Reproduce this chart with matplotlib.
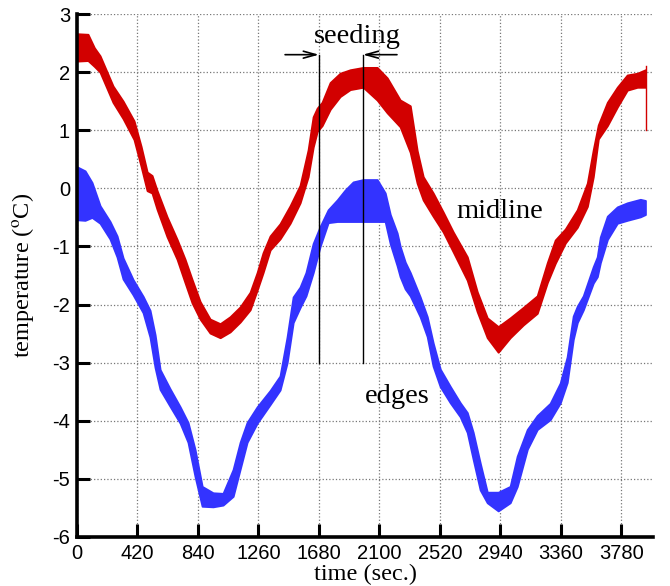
import matplotlib
matplotlib.use("Agg")
import matplotlib.pyplot as plt

# midline (red) band: time, upper and lower edge
mid_t = [0, 76, 120, 160, 250, 320, 396, 445, 487, 521, 556, 625, 695, 750, 799,
         855, 924, 994, 1063, 1133, 1202, 1251, 1292, 1341, 1410, 1480, 1549, 1605,
         1640, 1668, 1702, 1758, 1827, 1897, 1987, 2084, 2154, 2244, 2314, 2362,
         2404, 2473, 2543, 2612, 2710, 2779, 2849, 2925, 3008, 3099, 3196, 3266,
         3321, 3391, 3474, 3544, 3585, 3620, 3683, 3752, 3821, 3891, 3947]
mid_hi = [2.66, 2.65, 2.42, 2.28, 1.76, 1.50, 1.16, 0.72, 0.28, 0.22, -0.04, -0.49,
          -0.88, -1.22, -1.57, -1.95, -2.25, -2.33, -2.21, -2.04, -1.79, -1.45, -1.11,
          -0.82, -0.61, -0.30, 0.05, 0.66, 1.23, 1.38, 1.48, 1.82, 1.98, 2.04, 2.08,
          2.08, 1.90, 1.52, 1.42, 0.65, 0.20, -0.08, -0.41, -0.75, -1.18, -1.78,
          -2.23, -2.38, -2.23, -2.05, -1.85, -1.28, -0.89, -0.70, -0.37, 0.09, 0.66,
          1.09, 1.48, 1.74, 1.95, 1.98, 2.04]
mid_lo = [2.19, 2.20, 2.10, 2.00, 1.48, 1.20, 0.84, 0.38, -0.04, -0.08, -0.36, -0.83,
          -1.22, -1.62, -1.97, -2.25, -2.49, -2.57, -2.47, -2.30, -2.09, -1.75, -1.45,
          -1.06, -0.87, -0.60, -0.25, 0.20, 0.71, 0.98, 1.08, 1.36, 1.58, 1.70, 1.74,
          1.52, 1.30, 1.06, 0.62, 0.09, -0.20, -0.48, -0.75, -1.09, -1.58, -2.12,
          -2.57, -2.82, -2.57, -2.35, -2.15, -1.62, -1.29, -0.94, -0.67, -0.31, 0.20,
          0.85, 1.08, 1.40, 1.69, 1.74, 1.74]
mid_end_t = 3950
mid_end = [1.0, 2.1]

# edges (blue) band
edg_t = [0, 56, 104, 160, 229, 278, 320, 389, 459, 507, 542, 577, 646, 716, 771,
         820, 869, 945, 1014, 1084, 1133, 1181, 1251, 1341, 1410, 1459, 1501, 1549,
         1590, 1640, 1688, 1744, 1807, 1862, 1918, 1987, 2084, 2140, 2175, 2223,
         2244, 2279, 2314, 2383, 2432, 2473, 2522, 2592, 2661, 2710, 2751, 2800,
         2849, 2925, 3008, 3057, 3127, 3196, 3286, 3356, 3404, 3446, 3474, 3516,
         3585, 3613, 3634, 3683, 3752, 3821, 3912, 3947]
edg_hi = [0.37, 0.30, 0.10, -0.30, -0.57, -0.82, -1.20, -1.57, -1.86, -2.10, -2.52,
          -3.12, -3.45, -3.76, -4.03, -4.50, -5.13, -5.24, -5.25, -4.84, -4.37, -4.03,
          -3.76, -3.48, -3.23, -2.56, -1.87, -1.70, -1.45, -0.95, -0.66, -0.37, -0.20,
          -0.03, 0.11, 0.15, 0.15, -0.08, -0.45, -0.77, -1.00, -1.27, -1.45, -1.87,
          -2.21, -2.66, -3.11, -3.41, -3.69, -3.86, -4.20, -4.73, -5.23, -5.23, -5.13,
          -4.61, -4.15, -3.91, -3.70, -3.35, -2.90, -2.20, -2.03, -1.85, -1.35, -1.18,
          -0.84, -0.48, -0.32, -0.25, -0.19, -0.21]
edg_lo = [-0.54, -0.55, -0.50, -0.60, -0.87, -1.18, -1.56, -1.83, -2.14, -2.56, -3.08,
          -3.46, -3.75, -4.04, -4.37, -4.96, -5.47, -5.48, -5.45, -5.30, -4.83, -4.37,
          -4.04, -3.72, -3.47, -3.00, -2.31, -2.05, -1.85, -1.45, -1.00, -0.59, -0.57,
          -0.57, -0.57, -0.57, -0.57, -0.57, -0.95, -1.33, -1.52, -1.73, -1.85, -2.21,
          -2.55, -3.06, -3.41, -3.69, -3.93, -4.20, -4.66, -5.19, -5.41, -5.55, -5.41,
          -5.13, -4.49, -4.15, -3.98, -3.69, -3.34, -2.60, -2.31, -2.09, -1.63, -1.52,
          -1.28, -0.88, -0.60, -0.55, -0.49, -0.45]

# seeding markers
seed_t = [1680, 1985]
seed_span = [-3.0, 2.3]
seed_tails = [1445, 2222]

xticks = list(range(0, 3781, 420))
yticks = list(range(-6, 4))

red = "#d20000"
blue = "#3333ff"

plt.rcParams['axes.unicode_minus'] = False
plt.rcParams['mathtext.fontset'] = 'stix'

fig = plt.figure(figsize=(6.7, 5.86), dpi=100)
ax = fig.add_axes([77 / 670, 1 - 537 / 586, (653 - 77) / 670, (537 - 14) / 586])

ax.fill_between(mid_t, mid_lo, mid_hi, color=red, lw=1.4, edgecolor=red, zorder=3)
ax.plot([mid_end_t, mid_end_t], mid_end, color=red, lw=1.0, zorder=3)
ax.fill_between(edg_t, edg_lo, edg_hi, color=blue, lw=1.4, edgecolor=blue, zorder=3)

for st, tail in zip(seed_t, seed_tails):
    ax.plot([st, st], seed_span, color="black", lw=1.0, zorder=4)
    ax.annotate("", xy=(st, seed_span[1]), xytext=(tail, seed_span[1]),
                arrowprops=dict(arrowstyle="->,head_length=0.9,head_width=0.25",
                                color="black", lw=1.2, shrinkA=0, shrinkB=0), zorder=4)

serif = "Liberation Serif"
ax.text(1945, 2.61, "seeding", family=serif, fontsize=20.5, ha="center", va="center")
ax.text(2939, -0.40, "midline", family=serif, fontsize=20.5, ha="center", va="center")
ax.text(2221, -3.58, "edges", family=serif, fontsize=20.5, ha="center", va="center")

ax.set_xlim(0, 4000)
ax.set_ylim(-6, 3)
ax.set_xticks(xticks)
ax.set_yticks(yticks)
ax.grid(True, ls=":", color="#777777", lw=0.9)

for side in ["top", "right"]:
    ax.spines[side].set_visible(False)
for side in ["left", "bottom"]:
    ax.spines[side].set_linewidth(2.6)
    ax.spines[side].set_zorder(5)

ax.tick_params(direction="in", length=9.5, width=2.2, labelsize=14.5, pad=5, zorder=5)
for lab in ax.get_xticklabels() + ax.get_yticklabels():
    lab.set_family("Liberation Sans")

ax.set_xlabel("time (sec.)", family=serif, fontsize=17.5, labelpad=1)
ax.set_ylabel(r"temperature ($^{\rm o}$C)", family=serif, fontsize=17.5, labelpad=12)

fig.savefig("out.png", dpi=100)
